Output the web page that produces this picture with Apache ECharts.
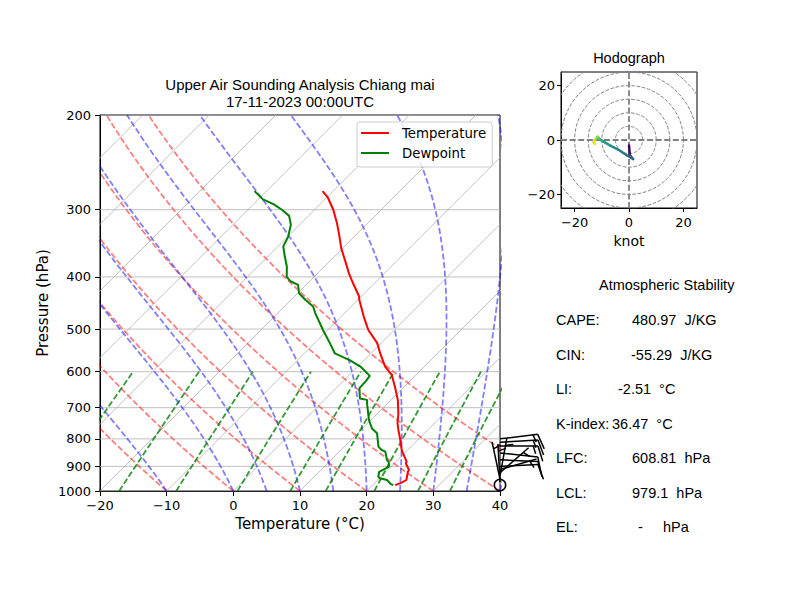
<!DOCTYPE html>
<html>
<head>
<meta charset="utf-8">
<script src="https://cdn.jsdelivr.net/npm/echarts/dist/echarts.min.js"></script>
<style>html,body{margin:0;padding:0;background:#fff}#c{width:800px;height:600px}</style>
</head>
<body>
<div id="c"></div>
<script>
// ---------------- DATA ----------------
const tempPressure = [975, 965, 954, 947, 921, 914, 888, 882, 851, 839, 804, 770, 749, 717, 677, 640, 609, 587, 555, 531, 502, 474, 441, 435, 411, 394, 377, 354, 332, 318, 300, 285, 277];
const temperature  = [23.4, 24.0, 24.3, 24.1, 23.3, 23.2, 21.7, 21.6, 19.8, 19.1, 17.4, 15.6, 14.5, 13.1, 11.0, 8.6, 6.4, 4.1, 1.4, -0.6, -3.9, -6.6, -9.8, -10.3, -13.2, -15.3, -17.3, -20.2, -22.8, -24.6, -27.2, -29.8, -31.6];

const dewPressure = [975, 970, 961, 954, 947, 941, 921, 901, 882, 876, 845, 839, 827, 781, 765, 738, 687, 677, 673, 644, 626, 611, 587, 571, 555, 531, 502, 467, 454, 441, 429, 414, 407, 400, 383, 367, 351, 337, 320, 308, 300, 293, 287, 277];
const dewpoint    = [23.1, 22.5, 21.9, 21.4, 20.1, 19.6, 19.0, 19.7, 18.9, 18.4, 16.9, 16.1, 15.1, 12.9, 11.4, 9.7, 6.9, 6.4, 5.1, 3.5, 3.4, 3.2, 0.4, -2.2, -5.4, -7.7, -10.7, -14.4, -15.7, -17.9, -19.8, -21.2, -23.0, -24.1, -25.6, -27.4, -29.2, -29.9, -31.3, -32.9, -34.9, -37.0, -39.3, -41.8];

const windPressure = [975, 962, 950, 937, 925, 912, 900, 875, 850, 825, 812, 800];
const windU = [0, 0.3, 1.5, -1, -4, -7, -9.5, -11, -11.5, -12.5, -13, -12.5];
const windV = [-2, -5.5, -7, -5.5, -3.5, -2, -0.5, 0.5, 1.2, 0, -0.8, -1.5];

const pressureTicks = [1000, 900, 800, 700, 600, 500, 400, 300, 200];
const tempTicks = [-20, -10, 0, 10, 20, 30, 40];
const isothermValues = [-70, -60, -50, -40, -30, -20, -10, 0, 10, 20, 30, 40];
const dryAdiabatT0 = [-40, -30, -20, -10, 0, 10, 20, 30, 40, 50];
const moistAdiabatT0 = [-40, -30, -20, -10, 0, 5, 10, 15, 20, 25, 30, 35, 40, 45, 50];
const mixingRatios = [0.0004, 0.001, 0.002, 0.004, 0.007, 0.01, 0.016, 0.024, 0.032];

const hodoTicks = [-20, 0, 20];
const hodoRings = [5, 10, 15, 20, 25, 30, 35];

const titleLines = ['Upper Air Sounding Analysis Chiang mai', '17-11-2023 00:00UTC'];
const stabilityTitle = 'Atmospheric Stability';
const stabilityLabels = ['CAPE:', 'CIN:', 'LI:', 'K-index:', 'LFC:', 'LCL:', 'EL:'];
const stabilityValues = ['480.97', '-55.29', '-2.51', '36.47', '608.81', '979.1', '-'];
const stabilityUnits  = ['J/KG', 'J/KG', '°C', '°C', 'hPa', 'hPa', 'hPa'];

// ---------------- LAYOUT / STYLE ----------------
const MAIN = {left: 100, top: 115, width: 400, height: 376};
const HODO = {left: 561, top: 72, width: 136, height: 136};
const X_MIN = -20, X_MAX = 40, P_TOP = 200, P_BOT = 1000;
const HODO_MIN = -25, HODO_MAX = 25;
// skew: isotherms at 45 degrees in pixel space
const K = (MAIN.height / Math.log10(P_BOT / P_TOP)) / (MAIN.width / (X_MAX - X_MIN));
const FONT = 'DejaVu Sans';
const FONT2 = 'Liberation Sans';
const minus = v => String(v).replace('-', '\u2212');
const DASH = [6, 2.6];

const lg = p => Math.log10(p);
const xs = (T, p) => T + K * Math.log10(P_BOT / p);

// thermodynamics for background lines (as MetPy)
const Rd = 287.04749, Cp = 1004.6662, Lv = 2.50084e6, EPS = 0.6219569;
const satVap = TK => 6.112 * Math.exp(17.67 * (TK - 273.15) / (TK - 29.65));
const satMix = (p, TK) => { const es = satVap(TK); return EPS * es / (p - es); };
const dTdp = (p, TK) => { const rs = satMix(p, TK); return (Rd * TK + Lv * rs) / (Cp + (Lv * Lv * rs * EPS) / (Rd * TK * TK)) / p; };

function dryLine(t0) {
  const pts = [];
  for (let p = 1000; p >= 200; p -= 10) {
    const T = (t0 + 273.15) * Math.pow(p / 1000, Rd / Cp) - 273.15;
    pts.push([xs(T, p), lg(p)]);
  }
  return pts;
}
function moistLine(t0) {
  let T = t0 + 273.15;
  const pts = [[xs(t0, 1000), lg(1000)]];
  const h = -2;
  for (let p = 1000; p > 200; p += h) {
    const k1 = dTdp(p, T), k2 = dTdp(p + h / 2, T + h * k1 / 2), k3 = dTdp(p + h / 2, T + h * k2 / 2), k4 = dTdp(p + h, T + h * k3);
    T += h * (k1 + 2 * k2 + 2 * k3 + k4) / 6;
    const pn = p + h;
    if (Math.abs(pn / 10 - Math.round(pn / 10)) < 1e-6) pts.push([xs(T - 273.15, pn), lg(pn)]);
  }
  return pts;
}
function mixLine(w) {
  const pts = [];
  for (let p = 1000; p >= 600; p -= 10) {
    const e = p * w / (EPS + w);
    const l = Math.log(e / 6.112);
    const Td = 243.5 * l / (17.67 - l);
    pts.push([xs(Td, p), lg(p)]);
  }
  return pts;
}

const VIR = ['#440154', '#482475', '#414487', '#355f8d', '#2a788e', '#21918c', '#22a884', '#44bf70', '#7ad151', '#bddf26', '#fde725'];
function viridis(t) {
  t = Math.max(0, Math.min(1, t));
  const f = t * 10, i = Math.min(9, Math.floor(f)), r = f - i;
  const a = VIR[i], b = VIR[i + 1];
  const c = k => Math.round(parseInt(a.substr(k, 2), 16) * (1 - r) + parseInt(b.substr(k, 2), 16) * r);
  return 'rgb(' + c(1) + ',' + c(3) + ',' + c(5) + ')';
}

function line(data, color, width, type, z, gi) {
  return {type: 'line', xAxisIndex: gi || 0, yAxisIndex: gi || 0, data: data, symbol: 'none', silent: true,
    animation: false, clip: true, z: z, lineStyle: {color: color, width: width, type: type}};
}

const series = [];
// isotherms (skewed x grid)
isothermValues.forEach(T => series.push(line([[T, lg(P_BOT)], [xs(T, P_TOP), lg(P_TOP)]], '#b0b0b0', 0.8, 'solid', 1)));
// pressure grid
pressureTicks.forEach(p => series.push(line([[X_MIN, lg(p)], [X_MAX, lg(p)]], '#b0b0b0', 0.8, 'solid', 1)));
// dry adiabats
dryAdiabatT0.forEach(t => series.push(line(dryLine(t), 'rgba(255,0,0,0.5)', 1.8, DASH, 1)));
// moist adiabats
moistAdiabatT0.forEach(t => series.push(line(moistLine(t), 'rgba(0,0,255,0.5)', 1.8, DASH, 1)));
// mixing ratio lines
mixingRatios.forEach(w => series.push(line(mixLine(w), 'rgba(0,128,0,0.8)', 1.8, DASH, 1)));
// sounding
const tSeries = line(tempPressure.map((p, i) => [xs(temperature[i], p), lg(p)]), '#ff0000', 2, 'solid', 3);
tSeries.name = 'Temperature'; tSeries.itemStyle = {color: '#ff0000'};
const dSeries = line(dewPressure.map((p, i) => [xs(dewpoint[i], p), lg(p)]), '#008000', 2, 'solid', 3);
dSeries.name = 'Dewpoint'; dSeries.itemStyle = {color: '#008000'};
series.push(tSeries, dSeries);

// wind barbs at right edge
series.push({
  type: 'custom', xAxisIndex: 0, yAxisIndex: 0, z: 5, silent: true, animation: false,
  data: windPressure.map((p, i) => [X_MAX, lg(p), windU[i], windV[i]]),
  encode: {x: 0, y: 1},
  renderItem: function (params, api) {
    const b = api.coord([api.value(0), api.value(1)]);
    const u = api.value(2), v = api.value(3);
    const L = 38;
    const spd = Math.hypot(u, v);
    const mag = 5 * Math.floor(spd / 5 + 0.5);
    const st = {stroke: '#000', lineWidth: 1.5, fill: null};
    if (mag === 0) {
      return {type: 'circle', shape: {cx: b[0], cy: b[1], r: 0.15 * L}, style: st};
    }
    const dx = -u / spd, dy = v / spd;   // direction wind comes from (screen)
    const px = -dy, py = dx;             // barb side
    const ex = b[0] + L * dx, ey = b[1] + L * dy;
    const ch = [{type: 'line', shape: {x1: b[0], y1: b[1], x2: ex, y2: ey}, style: st}];
    const nFull = Math.floor(mag / 10), half = (mag % 10) >= 5;
    let off = 0;
    for (let i = 0; i < nFull; i++) {
      const sx = ex - off * dx, sy = ey - off * dy;
      ch.push({type: 'line', shape: {x1: sx, y1: sy, x2: sx + 0.4 * L * px + 0.125 * L * dx, y2: sy + 0.4 * L * py + 0.125 * L * dy}, style: st});
      off += 0.125 * L;
    }
    if (half) {
      if (nFull === 0) off += 0.1875 * L;
      const sx = ex - off * dx, sy = ey - off * dy;
      ch.push({type: 'line', shape: {x1: sx, y1: sy, x2: sx + 0.2 * L * px + 0.0625 * L * dx, y2: sy + 0.2 * L * py + 0.0625 * L * dy}, style: st});
    }
    return {type: 'group', children: ch};
  }
});

// hodograph rings
hodoRings.forEach(r => {
  const pts = [];
  for (let a = 0; a <= 360; a += 3) pts.push([r * Math.cos(a * Math.PI / 180), r * Math.sin(a * Math.PI / 180)]);
  series.push(line(pts, '#808080', 1, [3.7, 1.6], 1, 1));
});
series.push(line([[HODO_MIN, 0], [HODO_MAX, 0]], '#808080', 1.8, DASH, 1, 1));
series.push(line([[0, HODO_MIN], [0, HODO_MAX]], '#808080', 1.8, DASH, 1, 1));
// hodograph trace coloured by level
const pMax = Math.max(...windPressure), pMin = Math.min(...windPressure);
for (let i = 0; i < windU.length - 1; i++) {
  const c = viridis(Math.pow((pMax - windPressure[i]) / (pMax - pMin), 0.6));
  const s = line([[windU[i], windV[i]], [windU[i + 1], windV[i + 1]]], c, 2.5, 'solid', 3, 1);
  s.lineStyle.cap = 'round';
  series.push(s);
}

// text graphics
const graphics = [];
const txt = (x, y, t, align, size, fam) => ({type: 'text', x: x, y: y,
  style: {text: t, align: align, verticalAlign: 'middle', textAlign: align, textVerticalAlign: 'middle', fontSize: size, fontFamily: fam, fill: '#000'}});
titleLines.forEach((t, i) => graphics.push(txt(300, 84 + i * 17, t, 'center', 15, FONT2)));
graphics.push(txt(629, 58, 'Hodograph', 'center', 14.5, FONT2));
graphics.push(txt(599, 285, stabilityTitle, 'left', 14.5, FONT2));
const valueX = [632, 631, 618, 612, 632, 632, 638];
stabilityLabels.forEach((lab, i) => {
  const y = 320 + i * 34.5;
  graphics.push(txt(556, y, lab, 'left', 14.5, FONT2));
  const gap = stabilityValues[i] === '-' ? '\u00a0\u00a0\u00a0\u00a0\u00a0' : '\u00a0\u00a0';
  graphics.push(txt(valueX[i], y, stabilityValues[i] + gap + stabilityUnits[i], 'left', 14.5, FONT2));
});

const yTickVals = pressureTicks.map(lg);
const option = {
  animation: false,
  backgroundColor: '#ffffff',
  textStyle: {fontFamily: FONT},
  graphic: graphics,
  legend: {
    data: ['Temperature', 'Dewpoint'], orient: 'vertical', left: 357, top: 122,
    icon: 'rect', itemWidth: 28, itemHeight: 2, itemGap: 6, selectedMode: false,
    padding: [4, 6, 7, 4], backgroundColor: 'rgba(255,255,255,0.8)', borderColor: '#cccccc', borderWidth: 1, borderRadius: 3,
    textStyle: {fontFamily: FONT, fontSize: 13.3, color: '#000', lineHeight: 14, padding: [0, 0, 0, 8]}, z: 10
  },
  grid: [
    {left: MAIN.left, top: MAIN.top, width: MAIN.width, height: MAIN.height, show: true, borderColor: '#000', borderWidth: 1, backgroundColor: 'transparent'},
    {left: HODO.left, top: HODO.top, width: HODO.width, height: HODO.height, show: true, borderColor: '#000', borderWidth: 1, backgroundColor: 'transparent'}
  ],
  xAxis: [
    {type: 'value', gridIndex: 0, min: X_MIN, max: X_MAX, interval: 10,
      axisLine: {onZero: false, lineStyle: {color: '#000', width: 1}}, axisTick: {length: 5, lineStyle: {color: '#000'}},
      axisLabel: {color: '#000', fontSize: 13, fontFamily: FONT, margin: 8, formatter: minus, customValues: tempTicks},
      splitLine: {show: false},
      name: 'Temperature (°C)', nameLocation: 'middle', nameGap: 25, nameTextStyle: {fontSize: 15, fontFamily: FONT, color: '#000'}},
    {type: 'value', gridIndex: 1, min: HODO_MIN, max: HODO_MAX,
      axisLine: {onZero: false, lineStyle: {color: '#000', width: 1}}, axisTick: {length: 4, lineStyle: {color: '#000'}, customValues: hodoTicks},
      axisLabel: {color: '#000', fontSize: 13, fontFamily: FONT, margin: 8, formatter: minus, customValues: hodoTicks},
      splitLine: {show: false},
      name: 'knot', nameLocation: 'middle', nameGap: 26, nameTextStyle: {fontSize: 14, fontFamily: FONT, color: '#000'}}
  ],
  yAxis: [
    {type: 'value', gridIndex: 0, min: lg(P_TOP), max: lg(P_BOT), inverse: true,
      axisLine: {onZero: false, lineStyle: {color: '#000', width: 1}}, axisTick: {length: 5, lineStyle: {color: '#000'}, customValues: yTickVals},
      axisLabel: {color: '#000', fontSize: 13, fontFamily: FONT, margin: 9, customValues: yTickVals, formatter: v => String(Math.round(Math.pow(10, v)))},
      splitLine: {show: false},
      name: 'Pressure (hPa)', nameLocation: 'middle', nameGap: 50, nameRotate: 90, nameTextStyle: {fontSize: 15, fontFamily: FONT, color: '#000'}},
    {type: 'value', gridIndex: 1, min: HODO_MIN, max: HODO_MAX,
      axisLine: {onZero: false, lineStyle: {color: '#000', width: 1}}, axisTick: {length: 4, lineStyle: {color: '#000'}, customValues: hodoTicks},
      axisLabel: {color: '#000', fontSize: 13, fontFamily: FONT, margin: 6, formatter: minus, customValues: hodoTicks},
      splitLine: {show: false}}
  ],
  series: series
};
const chart = echarts.init(document.getElementById('c'), null, {renderer: 'svg', width: 800, height: 600});
chart.setOption(option);
</script>
</body>
</html>
